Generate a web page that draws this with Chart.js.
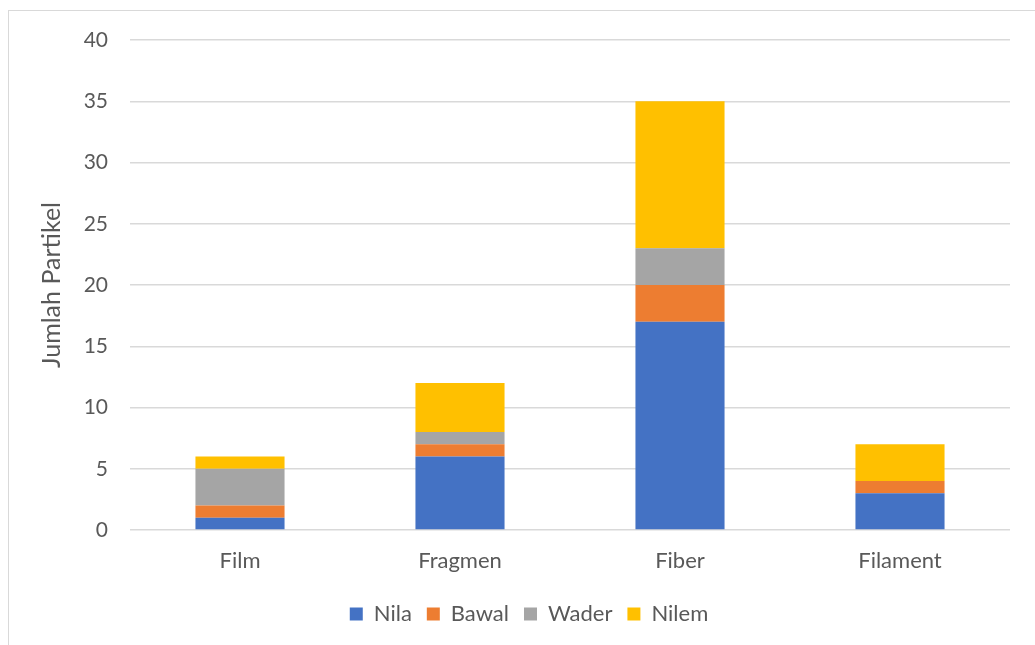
<!DOCTYPE html>
<html>
<head>
<meta charset="utf-8">
<script src="https://cdn.jsdelivr.net/npm/chart.js@4/dist/chart.umd.min.js"></script>
<style>
    html, body { margin: 0; padding: 0; background: #fff; }
    #wrap { position: relative; width: 1035px; height: 645px; overflow: hidden; }
    #frame { position: absolute; left: 8px; top: 10px; width: 1040px; height: 650px; border: 1px solid #d9d9d9; box-sizing: border-box; }
    #chart-box { position: absolute; left: 0; top: 0; width: 1035px; height: 645px; }
</style>
</head>
<body>
<div id="wrap">
    <div id="frame"></div>
    <div id="chart-box"><canvas id="chart"></canvas></div>
</div>
<script>
// Chart data
const categories = ['Film', 'Fragmen', 'Fiber', 'Filament'];
const nila = [1, 6, 17, 3];
const bawal = [1, 1, 3, 1];
const wader = [3, 1, 3, 0];
const nilem = [1, 4, 12, 3];

const fontFamily = "Lato, 'Open Sans', sans-serif";
const textColor = '#595959';

function makeSet(label, data, color) {
    return {
        label: label,
        data: data,
        backgroundColor: color,
        borderWidth: 0,
        barPercentage: 0.405,
        categoryPercentage: 1
    };
}

const ctx = document.getElementById('chart').getContext('2d');
new Chart(ctx, {
    type: 'bar',
    data: {
        labels: categories,
        datasets: [
            makeSet('Nila', nila, '#4472c4'),
            makeSet('Bawal', bawal, '#ed7d31'),
            makeSet('Wader', wader, '#a5a5a5'),
            makeSet('Nilem', nilem, '#ffc000')
        ]
    },
    options: {
        responsive: true,
        maintainAspectRatio: false,
        animation: false,
        layout: {
            padding: { top: 40, right: 25, left: 48, bottom: 10 }
        },
        plugins: {
            tooltip: { enabled: false },
            legend: {
                position: 'bottom',
                labels: {
                    boxWidth: 13,
                    boxHeight: 13,
                    padding: 15,
                    color: textColor,
                    font: { family: fontFamily, size: 22 }
                }
            }
        },
        scales: {
            x: {
                stacked: true,
                grid: { display: false },
                border: { display: false },
                ticks: {
                    color: textColor,
                    padding: 10,
                    font: { family: fontFamily, size: 22 }
                },
                afterFit: (scale) => { scale.height = 58; }
            },
            y: {
                stacked: true,
                min: 0,
                max: 40,
                ticks: {
                    stepSize: 5,
                    color: textColor,
                    padding: 22,
                    font: { family: fontFamily, size: 21 }
                },
                grid: {
                    color: '#d9d9d9',
                    lineWidth: 1.5,
                    drawTicks: false
                },
                border: { display: false },
                title: {
                    display: true,
                    text: 'Jumlah Partikel',
                    color: textColor,
                    padding: { top: -11, bottom: 0 },
                    font: { family: fontFamily, size: 25 }
                },
                afterFit: (scale) => { scale.width = 82; }
            }
        }
    }
});
</script>
</body>
</html>
